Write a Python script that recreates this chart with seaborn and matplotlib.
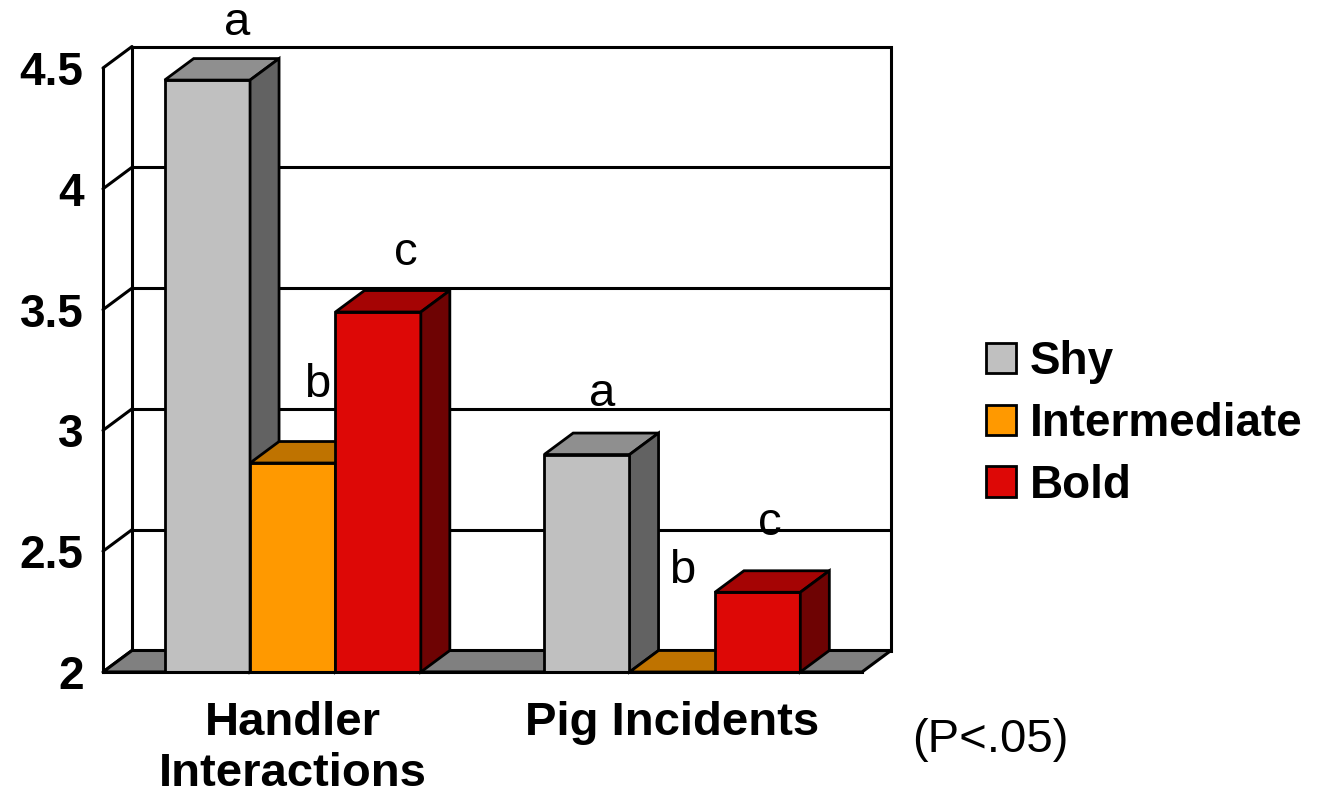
import numpy as np
import pandas as pd
import matplotlib
matplotlib.use("Agg")
import matplotlib.pyplot as plt
from matplotlib.patches import Polygon
from matplotlib.lines import Line2D
import seaborn as sns

# ---- data -------------------------------------------------------------
categories = ["Handler\nInteractions", "Pig Incidents"]
groups = ["Shy", "Intermediate", "Bold"]
shy = [4.45, 2.90]
intermediate = [2.865, 2.00]
bold = [3.49, 2.33]
letters = [["a", "a"], ["b", "b"], ["c", "c"]]
y_ticks = [2, 2.5, 3, 3.5, 4, 4.5]
y_tick_labels = ["2", "2.5", "3", "3.5", "4", "4.5"]
note = "(P<.05)"

values = {"Shy": shy, "Intermediate": intermediate, "Bold": bold}
df = pd.DataFrame(
    [(c, g, values[g][i]) for g in groups for i, c in enumerate(categories)],
    columns=["category", "group", "value"],
)

# ---- styling ----------------------------------------------------------
front_col = {"Shy": "#C0C0C0", "Intermediate": "#FF9900", "Bold": "#DD0806"}
top_col = {"Shy": "#8F8F8F", "Intermediate": "#BF7300", "Bold": "#A50404"}
side_col = {"Shy": "#626262", "Intermediate": "#8A5200", "Bold": "#6E0303"}
floor_col = "#808080"
LW = 2.2          # structural line width (pt)
BAR_LW = 2.0      # bar outline width (pt)
DEPTH_PX = (29, 21.5)  # oblique depth offset in pixels (right, up)
# letter placement relative to the top-centre of each bar's front face (px)
letter_offsets = [[(30, 45), (15, 49)], [(24, 66), (10, 89)], [(28, 47), (12, 57)]]

sns.set_theme(style="white")
plt.rcParams["font.family"] = ["Liberation Sans", "DejaVu Sans"]
plt.rcParams.update({"text.color": "black", "axes.labelcolor": "black",
                     "xtick.color": "black", "ytick.color": "black"})

W, H = 1318, 795
fig = plt.figure(figsize=(W / 100, H / 100), dpi=100)
ax = fig.add_axes([103 / W, 1 - 672 / H, (862 - 103) / W, (672 - 68) / H])
ax.patch.set_visible(False)

sns.barplot(data=df, x="category", y="value", hue="group", order=categories,
            hue_order=groups, palette=front_col, width=0.675, saturation=1,
            edgecolor="black", linewidth=BAR_LW, errorbar=None, ax=ax)

ax.set_xlim(-0.5, 1.5)
ax.set_ylim(2, 4.5)
ax.set(xlabel="", ylabel="")

# depth offset in data units
p0 = ax.transData.transform((0, 0))
px_x = ax.transData.transform((1, 0))[0] - p0[0]
px_y = ax.transData.transform((0, 1))[1] - p0[1]
DX, DY = DEPTH_PX[0] / px_x, DEPTH_PX[1] / px_y
x0, x1 = ax.get_xlim()
ymin, ymax = ax.get_ylim()

# back wall, gridlines, side wall diagonals, floor
ax.add_patch(Polygon([(x0 + DX, ymin + DY), (x1 + DX, ymin + DY),
                      (x1 + DX, ymax + DY), (x0 + DX, ymax + DY)],
                     closed=True, facecolor="white", edgecolor="black",
                     linewidth=LW, clip_on=False, zorder=0.5))
for yt in y_ticks[1:-1]:
    ax.add_line(Line2D([x0 + DX, x1 + DX], [yt + DY, yt + DY], color="black",
                       linewidth=LW, clip_on=False, zorder=0.6))
for yt in y_ticks:
    ax.add_line(Line2D([x0, x0 + DX], [yt, yt + DY], color="black",
                       linewidth=LW, clip_on=False, zorder=0.6))
ax.add_patch(Polygon([(x0, ymin), (x1, ymin), (x1 + DX, ymin + DY), (x0 + DX, ymin + DY)],
                     closed=True, facecolor=floor_col, edgecolor="black",
                     linewidth=LW, clip_on=False, zorder=0.7))

# extrude every bar: top and right-hand faces, painted left to right
bars = []
for gi, cont in enumerate(ax.containers):
    for ci, rect in enumerate(cont.patches):
        bars.append((rect.get_x(), gi, ci, rect))
bars.sort(key=lambda b: b[0])
for k, (bx, gi, ci, rect) in enumerate(bars):
    g = groups[gi]
    z = 2 + 0.01 * k
    rect.set_zorder(z)
    w = rect.get_width()
    h = rect.get_height()
    ax.add_patch(Polygon([(bx, h), (bx + w, h), (bx + w + DX, h + DY), (bx + DX, h + DY)],
                         closed=True, facecolor=top_col[g], edgecolor="black",
                         linewidth=BAR_LW, clip_on=False, zorder=z))
    if h > ymin:
        ax.add_patch(Polygon([(bx + w, ymin), (bx + w, h), (bx + w + DX, h + DY),
                              (bx + w + DX, ymin + DY)],
                             closed=True, facecolor=side_col[g], edgecolor="black",
                             linewidth=BAR_LW, clip_on=False, zorder=z))
    ox, oy = letter_offsets[gi][ci]
    ax.annotate(letters[gi][ci], xy=(bx + w / 2, h), xytext=(ox, oy),
                textcoords="offset pixels", ha="center", va="baseline",
                fontsize=34, color="black", annotation_clip=False, zorder=5)

# axes: only the front-left and front-bottom edges
for s in ("top", "right"):
    ax.spines[s].set_visible(False)
for s in ("left", "bottom"):
    ax.spines[s].set_linewidth(LW)
    ax.spines[s].set_color("black")
    ax.spines[s].set_zorder(6)

ax.set_yticks(y_ticks, y_tick_labels)
ax.tick_params(axis="y", which="major", direction="out", length=6, width=LW,
               color="black", pad=8, labelsize=33, labelcolor="black")
for t in ax.get_yticklabels():
    t.set_fontweight("bold")

ax.set_xticks([x0, 0.5, x1], ["", "", ""])
ax.set_xticks([0, 1], categories, minor=True)
ax.tick_params(axis="x", which="major", direction="out", length=8, width=LW,
               color="black")
ax.tick_params(axis="x", which="minor", length=0, pad=21, labelsize=34,
               labelcolor="black")
for t in ax.get_xticklabels(minor=True):
    t.set_fontweight("bold")

sns.move_legend(ax, "center left", bbox_to_anchor=(986 / W, 1 - 424 / H),
                bbox_transform=fig.transFigure, title=None, frameon=False,
                fontsize=33, handlelength=0.65, handleheight=0.65,
                handletextpad=0.3, labelspacing=0.39, borderpad=0,
                borderaxespad=0)
leg = ax.get_legend()
for t in leg.get_texts():
    t.set_fontweight("bold")
    t.set_color("black")
for hnd in leg.legend_handles:
    hnd.set_linewidth(BAR_LW)

fig.text(990 / W, 1 - 740 / H, note, ha="center", va="center", fontsize=34,
         color="black")

fig.savefig("out.png", dpi=100)
